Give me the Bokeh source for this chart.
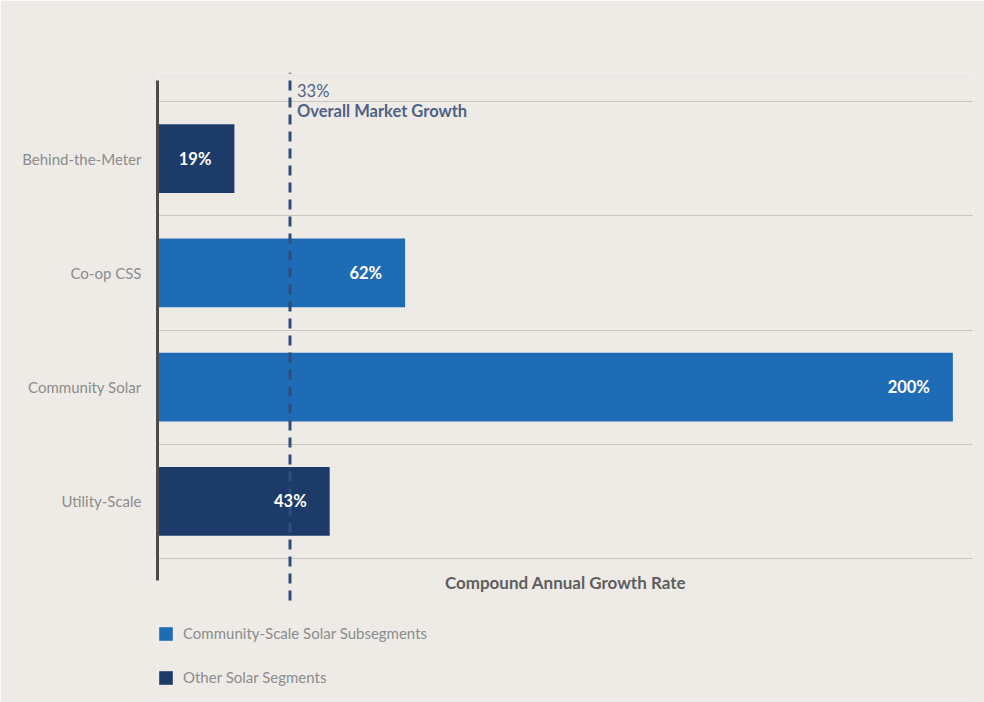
from bokeh.plotting import figure
from bokeh.models import (Range1d, FixedTicker, Label, Legend, LegendItem,
                          ColumnDataSource)
from bokeh.embed import file_html
from bokeh.resources import INLINE

# ---- data ----
categories = ["Behind-the-Meter", "Co-op CSS", "Community Solar", "Utility-Scale"]
cagr = [19, 62, 200, 43]
segment = ["Other Solar Segments", "Community-Scale Solar Subsegments",
           "Community-Scale Solar Subsegments", "Other Solar Segments"]
value_labels = ["19%", "62%", "200%", "43%"]
overall_growth = 33
overall_label = ["33%", "Overall Market Growth"]
x_title = "Compound Annual Growth Rate"
legend_order = ["Community-Scale Solar Subsegments", "Other Solar Segments"]

# ---- styles ----
BG = "#eeebe7"
COLORS = {"Community-Scale Solar Subsegments": "#1f6cb6",
          "Other Solar Segments": "#1c3b68"}
FONT = "Lato"

n = len(categories)
ypos = [n - i - 0.5 for i in range(n)]

Y_LO, Y_HI = -1.243, 4.254
p = figure(width=984, height=702, output_backend="svg", toolbar_location=None,
           x_range=Range1d(-0.38, 205.2), y_range=Range1d(Y_LO, Y_HI),
           min_border_left=157, min_border_right=11, min_border_top=72,
           min_border_bottom=2)
p.background_fill_color = BG
p.border_fill_color = BG
p.outline_line_color = None
p.xaxis.visible = False
p.xgrid.visible = False

# grid lines between category bands
p.ygrid.ticker = FixedTicker(ticks=list(range(n + 1)))
p.ygrid.grid_line_color = "#c9c6c2"
p.ygrid.grid_line_width = 1

yax = p.yaxis[0]
yax.ticker = FixedTicker(ticks=ypos)
yax.major_label_overrides = {y: c for y, c in zip(ypos, categories)}
yax.major_tick_out = 0
yax.major_tick_in = 0
yax.minor_tick_out = 0
yax.minor_tick_in = 0
yax.axis_line_color = "#4b4b4b"
yax.axis_line_width = 3
yax.bounds = (-0.193, 4.184)
yax.major_label_text_font = FONT
yax.major_label_text_font_size = "15px"
yax.major_label_text_color = "#8c8c8c"
yax.major_label_standoff = 16

items = []
for seg in legend_order:
    idx = [i for i, s in enumerate(segment) if s == seg]
    src = ColumnDataSource(dict(y=[ypos[i] for i in idx], v=[cagr[i] for i in idx]))
    r = p.hbar(y="y", right="v", left=0, height=0.6, source=src,
               fill_color=COLORS[seg], line_color=None)
    items.append(LegendItem(label=seg, renderers=[r]))

# overall market growth reference line (above bars, below value labels)
p.segment(x0=overall_growth, x1=overall_growth, y0=-0.368, y1=Y_HI,
          line_color="#2f4d7c", line_width=3, line_dash="10 7")

lab_src = ColumnDataSource(dict(x=cagr, y=ypos, t=value_labels))
p.text(x="x", y="y", text="t", source=lab_src, text_align="right",
       text_baseline="middle", x_offset=-23, text_color="white",
       text_font_size="16.5px", text_font_style="bold", text_font={"value": FONT})

p.add_layout(Label(x=overall_growth, y=4.096, x_offset=7, text=overall_label[0],
                   text_baseline="middle", text_font=FONT, text_font_size="16.5px",
                   text_color="#4d6285"))
p.add_layout(Label(x=overall_growth, y=3.92, x_offset=7, text=overall_label[1],
                   text_baseline="middle", text_font=FONT, text_font_size="16.5px",
                   text_font_style="bold", text_color="#4d6285"))

p.add_layout(Label(x=(p.x_range.start + p.x_range.end) / 2, y=-0.21, text=x_title,
                   text_align="center", text_baseline="middle", text_font=FONT,
                   text_font_size="17px", text_font_style="bold", text_color="#5e5e5e"))

legend = Legend(items=items, location=(0, 14), orientation="vertical",
                glyph_width=17, glyph_height=17, label_height=17, spacing=26,
                label_standoff=9, padding=0, margin=0,
                background_fill_alpha=0, border_line_color=None,
                label_text_font=FONT, label_text_font_size="15px",
                label_text_color="#8c8c8c")
p.add_layout(legend)

open("out.html", "w").write(file_html(p, INLINE))
